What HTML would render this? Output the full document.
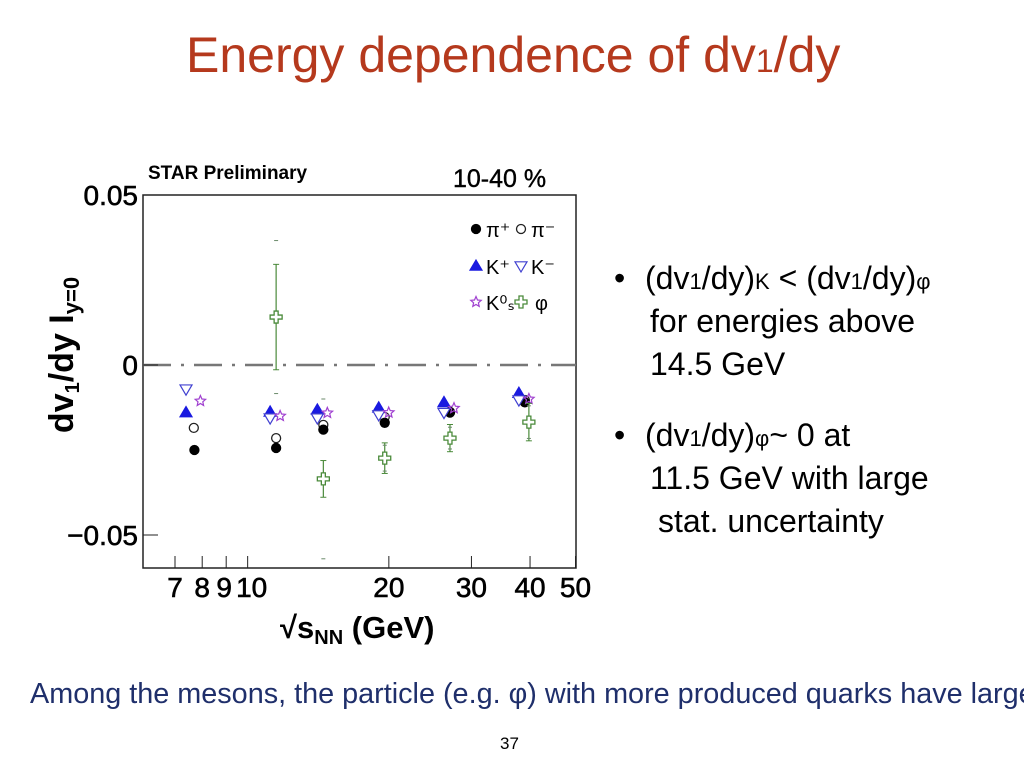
<!DOCTYPE html>
<html><head><meta charset="utf-8"><style>
body{margin:0;width:1024px;height:768px;background:#fff;overflow:hidden;font-family:"Liberation Sans",sans-serif;position:relative}
.abs{position:absolute;white-space:nowrap}
</style></head><body>
<div class="abs" style="left:186px;top:26px;font-size:50px;color:#b5391d">Energy dependence of dv<span style="font-size:32px">1</span>/dy</div>
<svg class="abs" style="left:0;top:0" width="1024" height="768">
<g id="plot"></g>
</svg>
<div class="abs" style="left:614px;top:257px;font-size:32px;line-height:43px;color:#000">•<span style="position:absolute;left:31px">(dv<span style="font-size:22px">1</span>/dy)<span style="font-size:22px">K</span> &lt; (dv<span style="font-size:22px">1</span>/dy)<span style="font-size:22px">φ</span></span><br><span style="position:absolute;left:36px">for energies above</span><br><span style="position:absolute;left:36px">14.5 GeV</span></div>
<div class="abs" style="left:614px;top:414px;font-size:32px;line-height:43px;color:#000">•<span style="position:absolute;left:31px">(dv<span style="font-size:22px">1</span>/dy)<span style="font-size:22px">φ</span>~ 0 at</span><br><span style="position:absolute;left:36px">11.5 GeV with large</span><br><span style="position:absolute;left:44px">stat. uncertainty</span></div>
<div class="abs" style="left:30px;top:678px;font-size:28.8px;color:#1f2f6b">Among the mesons, the particle (e.g. φ) with more produced quarks have larger</div>
<div class="abs" style="left:500px;top:734px;font-size:17px">37</div>
<script>
const energies=[7.7,11.5,14.5,19.6,27,39];
const piPlus=[-0.025,-0.0244,-0.019,-0.017,-0.014,-0.011];
const piMinus=[-0.0185,-0.0215,-0.0176,-0.0153,-0.0138,-0.0103];
const kPlus=[-0.014,-0.0138,-0.0132,-0.0126,-0.011,-0.0083];
const kMinus=[-0.0071,-0.0156,-0.0156,-0.0147,-0.014,-0.0103];
const k0s=[-0.0106,-0.015,-0.0141,-0.014,-0.0127,-0.01];
const phiE=[11.5,14.5,19.6,27,39];
const phiV=[0.0141,-0.0335,-0.0274,-0.0215,-0.0168];
const phiErr=[0.0155,0.0054,0.0045,0.004,0.0055];
const phiSys=[0.0225,0.0235,0.0038,0.0032,0.0048];
const xTicks=[7,8,9,10,20,30,40,50];
const xLabels=['7','8','9','10','20','30','40','50'];
const yTicks=[0.05,0,-0.05];
const yLabels=['0.05','0','\u22120.05'];
const NS='http://www.w3.org/2000/svg';
const g=document.getElementById('plot');
const X=e=>175+203.7*Math.log(e/7);
const Y=v=>365-v*3400;
function mk(t,a,name,p){const e=document.createElementNS(NS,t);for(const k in a)e.setAttribute(k,a[k]);


(p||g).appendChild(e);return e;}
mk('rect',{x:143,y:195,width:433,height:373,fill:'none',stroke:'#222','stroke-width':1.5},'plot-frame');
mk('line',{x1:143,y1:365,x2:576,y2:365,stroke:'#777','stroke-width':2.5,'stroke-dasharray':'28,10,3,10'},'zero-line');
xTicks.forEach((t,i)=>{mk('line',{x1:X(t),y1:568,x2:X(t),y2:556,stroke:'#222'},'x-tick');
const tx=mk('text',{x:X(t)+(t==9?-2:t==10?4:0),y:597,'font-size':28,'text-anchor':'middle','font-family':'Liberation Sans',stroke:'#000','stroke-width':0.6},'x-tick-label');tx.textContent=xLabels[i];});
yTicks.forEach((t,i)=>{mk('line',{x1:143,y1:Y(t),x2:158,y2:Y(t),stroke:'#222'},'y-tick');
const tx=mk('text',{x:138,y:Y(t)+10,'font-size':28,'text-anchor':'end','font-family':'Liberation Sans',stroke:'#000','stroke-width':0.6},'y-tick-label');tx.textContent=yLabels[i];});
let t=mk('text',{x:148,y:179,'font-size':19,'font-weight':'bold','font-family':'Liberation Sans'},'star-preliminary-label');t.textContent='STAR Preliminary';
t=mk('text',{x:453,y:187,'font-size':25,'font-family':'Liberation Sans',stroke:'#000','stroke-width':0.4},'centrality-label');t.textContent='10-40 %';
t=mk('text',{x:280,y:638,'font-size':31,'font-weight':'bold','font-family':'Liberation Sans'},'x-axis-title');t.innerHTML='√s<tspan font-size="20" dy="6">NN</tspan><tspan dy="-6"> (GeV)</tspan>';
t=mk('text',{x:0,y:0,'font-size':34,'font-weight':'bold','text-anchor':'middle','font-family':'Liberation Sans',transform:'translate(73,355) rotate(-90)'},'y-axis-title');t.innerHTML='dv<tspan font-size="20" dy="6">1</tspan><tspan dy="-6">/dy I</tspan><tspan font-size="22" dy="6">y=0</tspan>';
function circ(x,y,fill,stroke,name){mk('circle',{cx:x,cy:y,r:4.5,fill:fill,stroke:stroke,'stroke-width':1.3},name);}
function tri(x,y,up,fill,stroke,name){const s=6;const pts=up?`${x},${y-s} ${x-s},${y+s*0.7} ${x+s},${y+s*0.7}`:`${x},${y+s} ${x-s},${y-s*0.7} ${x+s},${y-s*0.7}`;mk('polygon',{points:pts,fill:fill,stroke:stroke,'stroke-width':1.2},name);}
function star(x,y,name){let p=[];for(let i=0;i<10;i++){const r=i%2?2.5:5.5,a=-Math.PI/2+i*Math.PI/5;p.push((x+r*Math.cos(a)).toFixed(1)+','+(y+r*Math.sin(a)).toFixed(1));}mk('polygon',{points:p.join(' '),fill:'none',stroke:'#a040d0','stroke-width':1.2},name);}
function cross(x,y,name){const a=2,b=6;mk('path',{d:`M${x-a},${y-b}h${2*a}v${b-a}h${b-a}v${2*a}h${-(b-a)}v${b-a}h${-2*a}v${-(b-a)}h${-(b-a)}v${-2*a}h${b-a}z`,fill:'#fff',stroke:'#4a8a3a','stroke-width':1.3},name);}
energies.forEach((e,i)=>{const x=X(e);const dx=i==0?-6:0;
circ(x+dx*0.1,Y(piMinus[i]),'#fff','#222','pi-minus-point');
circ(x,Y(piPlus[i]),'#000','#000','pi-plus-point');
tri(x-6+dx*0.4,Y(kPlus[i]),true,'#1a1ae0','#1a1ae0','k-plus-point');
tri(x-6+dx*0.4,Y(kMinus[i]),false,'#fff','#4040d0','k-minus-point');
star(x+(i==0?6:4),Y(k0s[i]),'k0s-point');});
phiE.forEach((e,i)=>{const x=X(e)+(i==4?4:0);const y=Y(phiV[i]);
mk('line',{x1:x,y1:Y(phiV[i]+phiErr[i]),x2:x,y2:Y(phiV[i]-phiErr[i]),stroke:'#4a8a3a','stroke-width':1.2},'phi-error-bar');
[Y(phiV[i]+phiErr[i]),Y(phiV[i]-phiErr[i])].forEach(yy=>mk('line',{x1:x-3,y1:yy,x2:x+3,y2:yy,stroke:'#4a8a3a'},'phi-error-cap'));
[Y(phiV[i]+phiSys[i]),Y(phiV[i]-phiSys[i])].forEach(yy=>mk('line',{x1:x-2,y1:yy,x2:x+2,y2:yy,stroke:'#6a8a6a'},'phi-sys-cap'));
cross(x,y,'phi-point');});
// legend
circ(476,229,'#000','#000','legend-pi-plus-marker');
circ(521,229,'#fff','#222','legend-pi-minus-marker');
tri(476,266,true,'#1a1ae0','#1a1ae0','legend-k-plus-marker');
tri(521,266,false,'#fff','#4040d0','legend-k-minus-marker');
star(476,302,'legend-k0s-marker');cross(521,302,'legend-phi-marker');
[['π⁺',486,237],['π⁻',531,237],['K⁺',486,274],['K⁻',531,274],['K⁰ₛ',486,310],['φ',535,310]].forEach(a=>{const tx=mk('text',{x:a[1],y:a[2],'font-size':20,'font-family':'Liberation Sans'},'legend-label');tx.textContent=a[0];});
</script>
</body></html>
